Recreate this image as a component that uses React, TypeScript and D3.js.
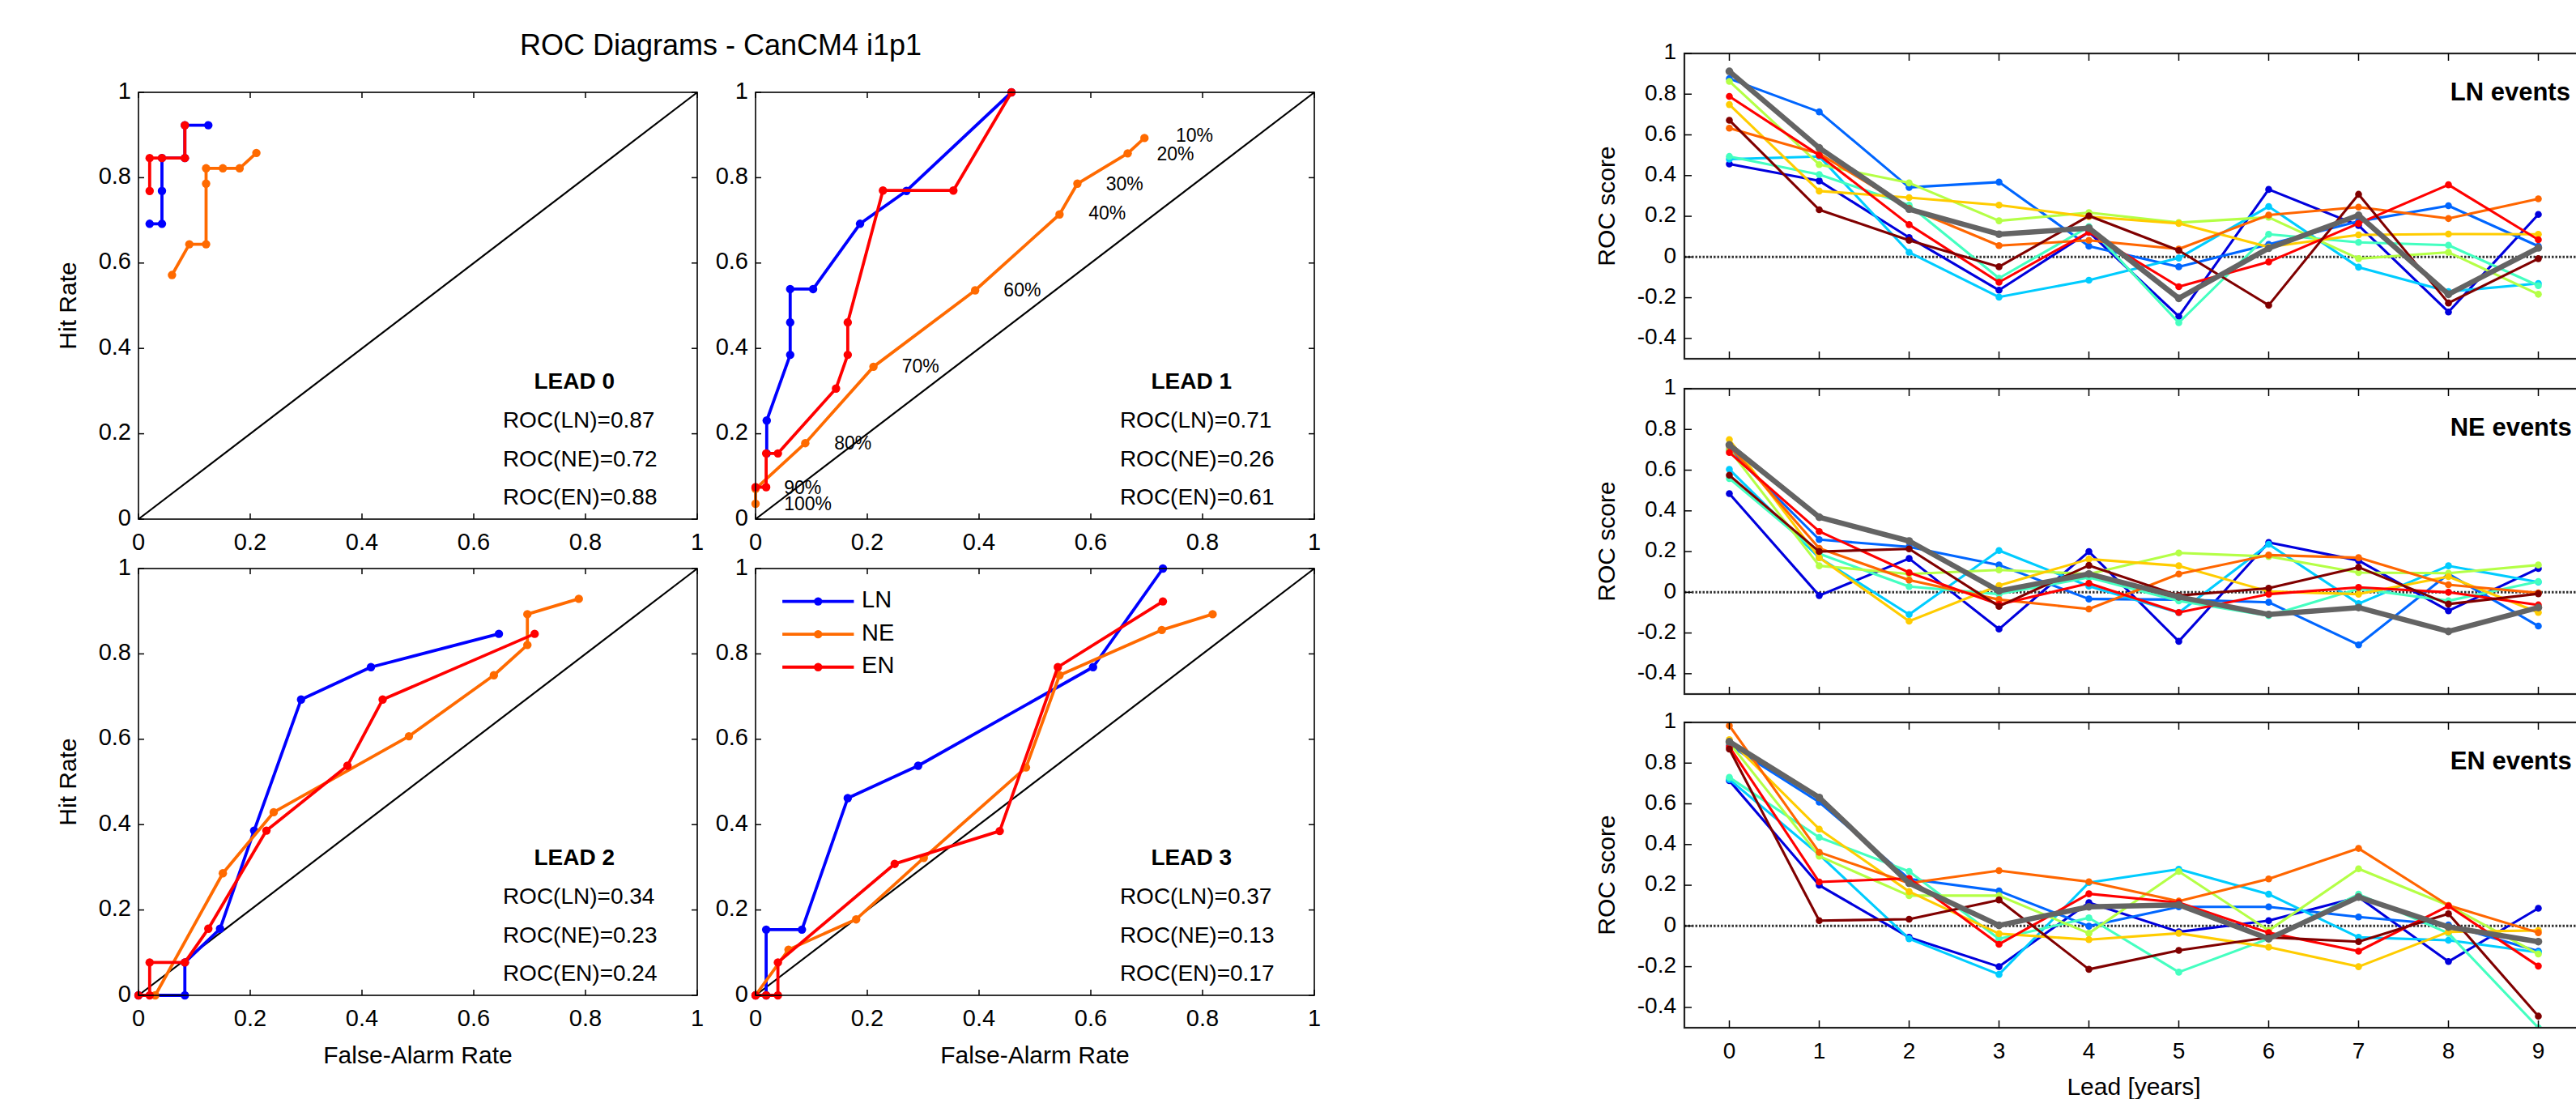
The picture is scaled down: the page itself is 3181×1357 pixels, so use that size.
import React from "react";
import * as d3 from "d3";

// ---------------- ROC diagram data (False-alarm rate, hit rate) ----------------
const rocLN: number[][][] = [
  [[0.02, 0.692], [0.042, 0.692], [0.042, 0.769], [0.042, 0.846], [0.083, 0.846], [0.083, 0.923], [0.125, 0.923]],
  [[0.02, 0.154], [0.02, 0.231], [0.062, 0.385], [0.062, 0.461], [0.062, 0.539], [0.103, 0.539], [0.187, 0.692], [0.27, 0.769], [0.458, 1.0]],
  [[0, 0], [0.083, 0], [0.083, 0.077], [0.146, 0.156], [0.207, 0.386], [0.291, 0.693], [0.416, 0.769], [0.645, 0.847]],
  [[0, 0], [0.019, 0], [0.019, 0.154], [0.083, 0.154], [0.165, 0.462], [0.291, 0.538], [0.604, 0.769], [0.729, 1.0]],
];
const rocNE: number[][][] = [
  [[0.06, 0.572], [0.091, 0.644], [0.121, 0.644], [0.121, 0.786], [0.121, 0.822], [0.151, 0.822], [0.181, 0.822], [0.211, 0.858]],
  [[0, 0.036], [0, 0.071], [0.089, 0.178], [0.211, 0.357], [0.393, 0.536], [0.544, 0.714], [0.576, 0.786], [0.666, 0.857], [0.696, 0.893]],
  [[0.03, 0], [0.151, 0.286], [0.242, 0.429], [0.484, 0.607], [0.636, 0.75], [0.696, 0.821], [0.696, 0.893], [0.788, 0.929]],
  [[0, 0], [0.059, 0.107], [0.18, 0.178], [0.301, 0.322], [0.484, 0.534], [0.544, 0.75], [0.727, 0.856], [0.818, 0.893]],
];
const rocEN: number[][][] = [
  [[0.02, 0.769], [0.02, 0.846], [0.042, 0.846], [0.083, 0.846], [0.083, 0.923]],
  [[0, 0.075], [0.019, 0.075], [0.019, 0.154], [0.04, 0.154], [0.144, 0.306], [0.165, 0.385], [0.165, 0.461], [0.228, 0.77], [0.354, 0.77], [0.458, 1.0]],
  [[0, 0], [0.02, 0], [0.02, 0.077], [0.083, 0.077], [0.125, 0.156], [0.229, 0.386], [0.374, 0.538], [0.437, 0.693], [0.709, 0.847]],
  [[0, 0], [0.019, 0], [0.04, 0], [0.04, 0.077], [0.249, 0.308], [0.437, 0.385], [0.541, 0.769], [0.729, 0.923]],
];
const scoreLN = [0.87, 0.71, 0.34, 0.37];
const scoreNE = [0.72, 0.26, 0.23, 0.13];
const scoreEN = [0.88, 0.61, 0.24, 0.17];
const probLabels = ["10%", "20%", "30%", "40%", "60%", "70%", "80%", "90%", "100%"];
// label anchors (data coordinates) for the NE curve of lead 1
const probLabelPos = [[0.752, 0.895], [0.718, 0.853], [0.627, 0.782], [0.596, 0.713], [0.444, 0.533], [0.262, 0.355], [0.141, 0.175], [0.051, 0.07], [0.051, 0.032]];
const rocTicks = [0, 0.2, 0.4, 0.6, 0.8, 1];

// ---------------- ROC score vs lead data ----------------
const leads = [0, 1, 2, 3, 4, 5, 6, 7, 8, 9];
const memberColors = ["#0000dd", "#0066ff", "#00ccff", "#44ffc0", "#b4ff46", "#ffcc00", "#ff6600", "#ff0000", "#800000"];
const lnMembers = [
  [0.457, 0.374, 0.096, -0.163, 0.122, -0.292, 0.332, 0.155, -0.27, 0.209],
  [0.876, 0.713, 0.342, 0.368, 0.053, -0.048, 0.062, 0.175, 0.252, 0.053],
  [0.481, 0.494, 0.023, -0.197, -0.114, -0.005, 0.248, -0.05, -0.17, -0.13],
  [0.494, 0.405, 0.255, -0.104, 0.149, -0.323, 0.112, 0.072, 0.058, -0.141],
  [0.863, 0.454, 0.364, 0.178, 0.218, 0.169, 0.195, -0.008, 0.023, -0.183],
  [0.749, 0.324, 0.292, 0.255, 0.198, 0.165, 0.049, 0.109, 0.113, 0.112],
  [0.633, 0.508, 0.24, 0.056, 0.082, 0.039, 0.206, 0.245, 0.189, 0.286],
  [0.789, 0.5, 0.159, -0.124, 0.122, -0.146, -0.024, 0.165, 0.355, 0.085],
  [0.672, 0.232, 0.082, -0.048, 0.202, 0.032, -0.237, 0.308, -0.226, -0.008],
];
const lnMean = [0.912, 0.536, 0.235, 0.112, 0.142, -0.203, 0.043, 0.205, -0.183, 0.045];
const neMembers = [
  [0.485, -0.016, 0.166, -0.181, 0.2, -0.241, 0.245, 0.156, -0.091, 0.117],
  [0.7, 0.259, 0.223, 0.134, -0.033, -0.036, -0.049, -0.258, 0.09, -0.166],
  [0.604, 0.17, -0.109, 0.205, 0.03, -0.1, 0.236, -0.056, 0.13, 0.05],
  [0.559, 0.189, 0.028, -0.009, 0.073, -0.042, -0.115, 0.017, -0.042, 0.053],
  [0.7, 0.13, 0.09, 0.11, 0.09, 0.193, 0.176, 0.097, 0.094, 0.134],
  [0.75, 0.17, -0.142, 0.033, 0.163, 0.13, 0.004, -0.009, 0.077, -0.099],
  [0.72, 0.216, 0.06, -0.036, -0.082, 0.09, 0.183, 0.17, 0.037, -0.003],
  [0.687, 0.299, 0.097, -0.06, 0.044, -0.099, -0.009, 0.024, 0.0, -0.062],
  [0.575, 0.2, 0.213, -0.069, 0.132, -0.016, 0.02, 0.123, -0.058, -0.007],
];
const neMean = [0.724, 0.369, 0.252, 0.007, 0.09, -0.023, -0.109, -0.075, -0.192, -0.075];
const enMembers = [
  [0.714, 0.2, -0.056, -0.2, 0.115, -0.029, 0.026, 0.142, -0.175, 0.087],
  [0.889, 0.608, 0.231, 0.172, -0.001, 0.094, 0.094, 0.044, 0.005, -0.124],
  [0.72, 0.35, -0.063, -0.238, 0.213, 0.279, 0.156, -0.056, -0.07, -0.13],
  [0.73, 0.435, 0.268, -0.063, 0.04, -0.227, -0.063, 0.156, -0.036, -0.5],
  [0.9, 0.343, 0.149, 0.149, -0.036, 0.268, -0.022, 0.281, 0.101, -0.138],
  [0.915, 0.476, 0.169, -0.038, -0.067, -0.036, -0.104, -0.2, -0.029, -0.022],
  [0.984, 0.362, 0.21, 0.272, 0.217, 0.122, 0.231, 0.381, 0.101, -0.033],
  [0.88, 0.216, 0.234, -0.09, 0.158, 0.115, -0.033, -0.124, 0.098, -0.197],
  [0.869, 0.026, 0.033, 0.128, -0.213, -0.12, -0.056, -0.077, 0.06, -0.443],
];
const enMean = [0.905, 0.631, 0.21, 0.003, 0.094, 0.104, -0.063, 0.142, -0.005, -0.077];
const scoreTicks = [-0.4, -0.2, 0, 0.2, 0.4, 0.6, 0.8, 1];

const FONT = "'Liberation Sans', Arial, Helvetica, sans-serif";
const C_LN = "#0000ff";
const C_NE = "#ff6a00";
const C_EN = "#ff0000";

function fmt(v: number) {
  const r = Math.round(v * 10) / 10;
  return String(r);
}

function RocPanel({ lead, x0, y0, w, h, showY, showX, legend }: any) {
  const xs = d3.scaleLinear().domain([0, 1]).range([x0, x0 + w]);
  const ys = d3.scaleLinear().domain([0, 1]).range([y0 + h, y0]);
  const line = d3.line<number[]>().x((d) => xs(d[0])).y((d) => ys(d[1]));
  const series = [
    { data: rocLN[lead], color: C_LN, name: "LN" },
    { data: rocNE[lead], color: C_NE, name: "NE" },
    { data: rocEN[lead], color: C_EN, name: "EN" },
  ];
  const tl = 7;
  return (
    <g fontFamily={FONT}>
      <line x1={xs(0)} y1={ys(0)} x2={xs(1)} y2={ys(1)} stroke="#000" strokeWidth={2.2} />
      {series.map((s) => (
        <g key={s.name}>
          <path d={line(s.data) || ""} fill="none" stroke={s.color} strokeWidth={3.8} strokeLinejoin="round" />
          {s.data.map((p, i) => (
            <circle key={i} cx={xs(p[0])} cy={ys(p[1])} r={5.2} fill={s.color} />
          ))}
        </g>
      ))}
      {lead === 1 &&
        probLabels.map((t, i) => (
          <text key={t} x={xs(probLabelPos[i][0])} y={ys(probLabelPos[i][1])} fontSize={23} dominantBaseline="middle" fill="#000">
            {t}
          </text>
        ))}
      <rect x={x0} y={y0} width={w} height={h} fill="none" stroke="#000" strokeWidth={1.6} />
      {rocTicks.map((t) => (
        <g key={t} stroke="#000" strokeWidth={1.5}>
          <line x1={xs(t)} x2={xs(t)} y1={y0 + h} y2={y0 + h - tl} />
          <line x1={xs(t)} x2={xs(t)} y1={y0} y2={y0 + tl} />
          <line x1={x0} x2={x0 + tl} y1={ys(t)} y2={ys(t)} />
          <line x1={x0 + w} x2={x0 + w - tl} y1={ys(t)} y2={ys(t)} />
        </g>
      ))}
      {rocTicks.map((t) => (
        <text key={"x" + t} x={xs(t)} y={y0 + h + 30} fontSize={29} textAnchor="middle" dominantBaseline="middle">
          {fmt(t)}
        </text>
      ))}
      {rocTicks.map((t) => (
        <text key={"y" + t} x={x0 - 9} y={ys(t)} fontSize={29} textAnchor="end" dominantBaseline="middle">
          {fmt(t)}
        </text>
      ))}
      {showY && (
        <text x={86} y={y0 + h / 2} fontSize={30} textAnchor="middle" dominantBaseline="middle" transform={`rotate(-90 86 ${y0 + h / 2})`}>
          Hit Rate
        </text>
      )}
      {showX && (
        <text x={x0 + w / 2} y={y0 + h + 76} fontSize={30} textAnchor="middle" dominantBaseline="middle">
          False-Alarm Rate
        </text>
      )}
      <text x={xs(0.78)} y={ys(0.32)} fontSize={28} fontWeight="bold" textAnchor="middle" dominantBaseline="middle">
        LEAD {lead}
      </text>
      <text x={xs(0.652)} y={ys(0.228)} fontSize={28} dominantBaseline="middle">
        ROC(LN)={scoreLN[lead].toFixed(2)}
      </text>
      <text x={xs(0.652)} y={ys(0.137)} fontSize={28} dominantBaseline="middle">
        ROC(NE)={scoreNE[lead].toFixed(2)}
      </text>
      <text x={xs(0.652)} y={ys(0.048)} fontSize={28} dominantBaseline="middle">
        ROC(EN)={scoreEN[lead].toFixed(2)}
      </text>
      {legend &&
        series.map((s, i) => {
          const yy = ys(0.923 - i * 0.077);
          return (
            <g key={"lg" + s.name}>
              <line x1={xs(0.048)} x2={xs(0.176)} y1={yy} y2={yy} stroke={s.color} strokeWidth={3.8} />
              <circle cx={xs(0.112)} cy={yy} r={5.2} fill={s.color} />
              <text x={xs(0.19)} y={yy} fontSize={29} dominantBaseline="middle">
                {s.name}
              </text>
            </g>
          );
        })}
    </g>
  );
}

function ScorePanel({ top, members, mean, label, showX }: any) {
  const h = 377;
  const xs = d3.scaleLinear().domain([-0.5, 9.5]).range([2080, 3190]);
  const ys = d3.scaleLinear().domain([-0.5, 1]).range([top + h, top]);
  const line = d3.line<number>().x((_, i) => xs(leads[i])).y((d) => ys(d));
  const x0 = xs(-0.5);
  const x1 = xs(9.5);
  const tl = 9;
  return (
    <g fontFamily={FONT}>
      <defs>
        <clipPath id={"clip" + top}>
          <rect x={x0} y={top} width={x1 - x0} height={h} />
        </clipPath>
      </defs>
      <line x1={x0} x2={x1} y1={ys(0)} y2={ys(0)} stroke="#333" strokeWidth={3} strokeDasharray="2.5 2" />
      <g clipPath={`url(#clip${top})`}>
        {members.map((m: number[], k: number) => (
          <g key={k}>
            <path d={line(m) || ""} fill="none" stroke={memberColors[k]} strokeWidth={3.1} strokeLinejoin="round" />
            {m.map((v, i) => (
              <circle key={i} cx={xs(leads[i])} cy={ys(v)} r={4.3} fill={memberColors[k]} />
            ))}
          </g>
        ))}
        <path d={line(mean) || ""} fill="none" stroke="#646464" strokeWidth={6.5} strokeLinejoin="round" />
        {mean.map((v: number, i: number) => (
          <circle key={i} cx={xs(leads[i])} cy={ys(v)} r={4.8} fill="#646464" />
        ))}
      </g>
      <rect x={x0} y={top} width={x1 - x0} height={h} fill="none" stroke="#222" strokeWidth={2.2} />
      {leads.map((t) => (
        <g key={t} stroke="#000" strokeWidth={1.5}>
          <line x1={xs(t)} x2={xs(t)} y1={top + h} y2={top + h - tl} />
          <line x1={xs(t)} x2={xs(t)} y1={top} y2={top + tl} />
        </g>
      ))}
      {scoreTicks.map((t) => (
        <g key={t} stroke="#000" strokeWidth={1.5}>
          <line x1={x0} x2={x0 + tl} y1={ys(t)} y2={ys(t)} />
          <line x1={x1} x2={x1 - tl} y1={ys(t)} y2={ys(t)} />
        </g>
      ))}
      {scoreTicks.map((t) => (
        <text key={"y" + t} x={x0 - 10} y={ys(t)} fontSize={28} textAnchor="end" dominantBaseline="middle">
          {fmt(t)}
        </text>
      ))}
      <text x={1986} y={top + h / 2} fontSize={30} textAnchor="middle" dominantBaseline="middle" transform={`rotate(-90 1986 ${top + h / 2})`}>
        ROC score
      </text>
      <text x={xs(8.02)} y={ys(0.8)} fontSize={31} fontWeight="bold" dominantBaseline="middle">
        {label}
      </text>
      {showX &&
        leads.map((t) => (
          <text key={"x" + t} x={xs(t)} y={top + h + 31} fontSize={28} textAnchor="middle" dominantBaseline="middle">
            {t}
          </text>
        ))}
      {showX && (
        <text x={(x0 + x1) / 2} y={top + h + 75} fontSize={30} textAnchor="middle" dominantBaseline="middle">
          Lead [years]
        </text>
      )}
    </g>
  );
}

export default function App() {
  const w = 690;
  const h = 527;
  return (
    <svg width={3181} height={1357} style={{ position: "absolute", left: 0, top: 0, background: "#fff" }}>
      <rect x={0} y={0} width={3181} height={1357} fill="#fff" />
      <text x={890} y={68} fontSize={36} fontFamily={FONT} textAnchor="middle">
        ROC Diagrams - CanCM4 i1p1
      </text>
      <RocPanel lead={0} x0={171} y0={114} w={w} h={h} showY={true} showX={false} legend={false} />
      <RocPanel lead={1} x0={933} y0={114} w={w} h={h} showY={false} showX={false} legend={false} />
      <RocPanel lead={2} x0={171} y0={702} w={w} h={h} showY={true} showX={true} legend={false} />
      <RocPanel lead={3} x0={933} y0={702} w={w} h={h} showY={false} showX={true} legend={true} />
      <ScorePanel top={66} members={lnMembers} mean={lnMean} label="LN events" showX={false} />
      <ScorePanel top={480} members={neMembers} mean={neMean} label="NE events" showX={false} />
      <ScorePanel top={892} members={enMembers} mean={enMean} label="EN events" showX={true} />
    </svg>
  );
}
